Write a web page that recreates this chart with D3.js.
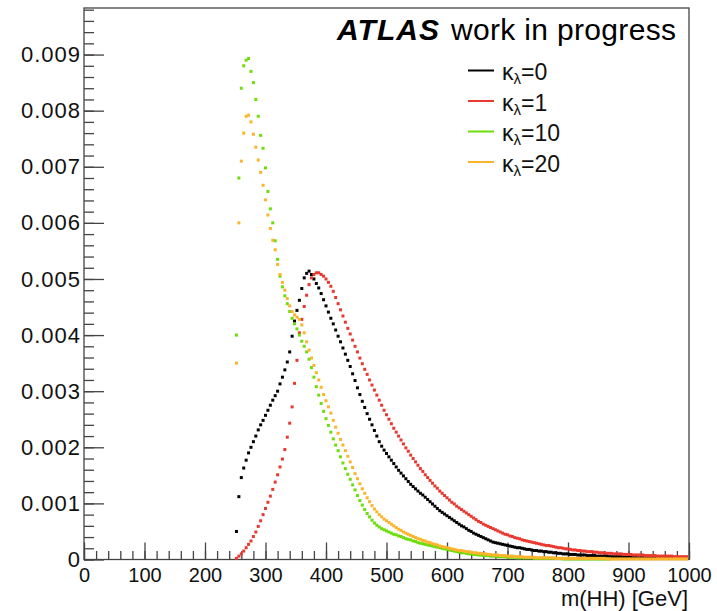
<!DOCTYPE html>
<html>
<head>
<meta charset="utf-8">
<script src="https://cdn.jsdelivr.net/npm/d3@7"></script>
<style>
  body { margin: 0; background: #fff; }
  svg { display: block; font-family: "Liberation Sans", Arial, Helvetica, sans-serif; }
</style>
</head>
<body>
<div class="chart"></div>
<script>
// m(HH) histograms, 4 GeV bins (bin centres)
var massBins = d3.range(252, 1000, 4);

// kappa_lambda = 0
var kl0 = [
  0.00050, 0.00112, 0.00146, 0.00163, 0.00177, 0.00190, 0.00200, 0.00210, 0.00220, 0.00231,
  0.00240, 0.00248, 0.00257, 0.00266, 0.00275, 0.00284, 0.00292, 0.00300, 0.00313, 0.00325,
  0.00338, 0.00352, 0.00370, 0.00398, 0.00425, 0.00444, 0.00462, 0.00483, 0.00502, 0.00510,
  0.00514, 0.00508, 0.00500, 0.00492, 0.00484, 0.00474, 0.00463, 0.00452, 0.00441, 0.00430,
  0.00420, 0.00409, 0.00398, 0.00388, 0.00377, 0.00366, 0.00355, 0.00344, 0.00331, 0.00319,
  0.00306, 0.00294, 0.00282, 0.00271, 0.00260, 0.00250, 0.00240, 0.00230, 0.00220, 0.00210,
  0.00202, 0.00195, 0.00189, 0.00183, 0.00177, 0.00171, 0.00165, 0.00159, 0.00154, 0.00149,
  0.00144, 0.00139, 0.00134, 0.00130, 0.00126, 0.00122, 0.00118, 0.00115, 0.00111, 0.00107,
  0.00103, 0.00099, 0.00095, 0.00091, 0.00087, 0.00084, 0.00081, 0.00078, 0.00075, 0.00072,
  0.00069, 0.00066, 0.00063, 0.00060, 0.00058, 0.00055, 0.00052, 0.00050, 0.00047, 0.00045,
  0.00043, 0.00041, 0.00039, 0.00037, 0.00035, 0.00033, 0.00031, 0.00030, 0.00029, 0.00028,
  0.00027, 0.00026, 0.00025, 0.00024, 0.00023, 0.00022, 0.00021, 0.00021, 0.00020, 0.00019,
  0.00018, 0.00018, 0.00017, 0.00016, 0.00016, 0.00015, 0.00015, 0.00014, 0.00014, 0.00013,
  0.00013, 0.00012, 0.00012, 0.00011, 0.00011, 0.00010, 0.00010, 0.00010, 0.00009, 0.00009,
  0.00009, 0.00008, 0.00008, 0.00008, 0.00008, 0.00007, 0.00007, 0.00007, 0.00007, 0.00006,
  0.00006, 0.00006, 0.00006, 0.00006, 0.00005, 0.00005, 0.00005, 0.00005, 0.00005, 0.00005,
  0.00004, 0.00004, 0.00004, 0.00004, 0.00004, 0.00004, 0.00003, 0.00003, 0.00003, 0.00003,
  0.00003, 0.00003, 0.00003, 0.00003, 0.00003, 0.00003, 0.00003, 0.00003, 0.00003, 0.00003,
  0.00002, 0.00002, 0.00002, 0.00002, 0.00002, 0.00002, 0.00002
];

// kappa_lambda = 1
var kl1 = [
  0.00002, 0.00006, 0.00010, 0.00015, 0.00021, 0.00027, 0.00033, 0.00041, 0.00049, 0.00059,
  0.00069, 0.00080, 0.00091, 0.00102, 0.00113, 0.00125, 0.00138, 0.00151, 0.00165, 0.00179,
  0.00196, 0.00218, 0.00243, 0.00272, 0.00314, 0.00355, 0.00404, 0.00428, 0.00451, 0.00471,
  0.00490, 0.00502, 0.00508, 0.00511, 0.00511, 0.00508, 0.00505, 0.00500, 0.00494, 0.00487,
  0.00478, 0.00467, 0.00456, 0.00445, 0.00434, 0.00423, 0.00412, 0.00402, 0.00391, 0.00380,
  0.00370, 0.00359, 0.00349, 0.00339, 0.00330, 0.00320, 0.00311, 0.00302, 0.00293, 0.00284,
  0.00275, 0.00266, 0.00258, 0.00250, 0.00242, 0.00234, 0.00227, 0.00220, 0.00213, 0.00206,
  0.00199, 0.00193, 0.00186, 0.00180, 0.00174, 0.00168, 0.00162, 0.00157, 0.00151, 0.00146,
  0.00141, 0.00136, 0.00131, 0.00127, 0.00122, 0.00118, 0.00114, 0.00110, 0.00106, 0.00102,
  0.00099, 0.00095, 0.00092, 0.00089, 0.00086, 0.00083, 0.00080, 0.00077, 0.00074, 0.00071,
  0.00068, 0.00066, 0.00063, 0.00061, 0.00059, 0.00057, 0.00055, 0.00053, 0.00051, 0.00049,
  0.00047, 0.00045, 0.00044, 0.00042, 0.00041, 0.00039, 0.00038, 0.00037, 0.00035, 0.00034,
  0.00033, 0.00032, 0.00031, 0.00030, 0.00029, 0.00028, 0.00027, 0.00026, 0.00025, 0.00025,
  0.00024, 0.00023, 0.00022, 0.00021, 0.00021, 0.00020, 0.00019, 0.00019, 0.00018, 0.00017,
  0.00017, 0.00016, 0.00016, 0.00015, 0.00015, 0.00014, 0.00014, 0.00014, 0.00013, 0.00013,
  0.00012, 0.00012, 0.00012, 0.00011, 0.00011, 0.00011, 0.00010, 0.00010, 0.00010, 0.00010,
  0.00009, 0.00009, 0.00009, 0.00009, 0.00008, 0.00008, 0.00008, 0.00008, 0.00008, 0.00007,
  0.00007, 0.00007, 0.00007, 0.00007, 0.00006, 0.00006, 0.00006, 0.00006, 0.00006, 0.00006,
  0.00006, 0.00005, 0.00005, 0.00005, 0.00005, 0.00005, 0.00005
];

// kappa_lambda = 10
var kl10 = [
  0.00400, 0.00680, 0.00840, 0.00880, 0.00890, 0.00893, 0.00870, 0.00850, 0.00820, 0.00790,
  0.00756, 0.00733, 0.00698, 0.00656, 0.00625, 0.00600, 0.00568, 0.00535, 0.00505, 0.00486,
  0.00470, 0.00456, 0.00442, 0.00430, 0.00420, 0.00411, 0.00400, 0.00389, 0.00380, 0.00370,
  0.00357, 0.00342, 0.00325, 0.00308, 0.00293, 0.00278, 0.00264, 0.00251, 0.00239, 0.00227,
  0.00215, 0.00204, 0.00194, 0.00183, 0.00172, 0.00162, 0.00152, 0.00143, 0.00133, 0.00124,
  0.00114, 0.00105, 0.00097, 0.00089, 0.00082, 0.00076, 0.00070, 0.00065, 0.00061, 0.00058,
  0.00055, 0.00053, 0.00051, 0.00049, 0.00047, 0.00045, 0.00044, 0.00042, 0.00041, 0.00039,
  0.00037, 0.00036, 0.00035, 0.00033, 0.00032, 0.00030, 0.00029, 0.00028, 0.00027, 0.00026,
  0.00025, 0.00024, 0.00023, 0.00022, 0.00021, 0.00020, 0.00019, 0.00018, 0.00017, 0.00016,
  0.00015, 0.00014, 0.00013, 0.00012, 0.00012, 0.00011, 0.00010, 0.00010, 0.00009, 0.00009,
  0.00008, 0.00008, 0.00007, 0.00007, 0.00007, 0.00006, 0.00006, 0.00006, 0.00005, 0.00005,
  0.00005, 0.00005, 0.00004, 0.00004, 0.00004, 0.00004, 0.00003, 0.00003, 0.00003, 0.00003,
  0.00003, 0.00003, 0.00003, 0.00002, 0.00002, 0.00002, 0.00002, 0.00002, 0.00002, 0.00002,
  0.00002, 0.00002, 0.00002, 0.00002, 0.00002, 0.00001, 0.00001, 0.00001, 0.00001, 0.00001,
  0.00001, 0.00001, 0.00001, 0.00001, 0.00001, 0.00001, 0.00001, 0.00001, 0.00001, 0.00001,
  0.00001, 0.00001, 0.00001, 0.00001, 0.00001, 0, 0, 0, 0, 0,
  0, 0, 0, 0, 0, 0, 0, 0, 0, 0,
  0, 0, 0, 0, 0, 0, 0, 0, 0, 0,
  0, 0, 0, 0, 0, 0, 0
];

// kappa_lambda = 20
var kl20 = [
  0.00350, 0.00600, 0.00710, 0.00760, 0.00790, 0.00792, 0.00780, 0.00758, 0.00735, 0.00712,
  0.00690, 0.00667, 0.00641, 0.00614, 0.00590, 0.00569, 0.00552, 0.00526, 0.00508, 0.00494,
  0.00480, 0.00465, 0.00452, 0.00442, 0.00436, 0.00432, 0.00428, 0.00418, 0.00404, 0.00388,
  0.00373, 0.00359, 0.00346, 0.00333, 0.00320, 0.00307, 0.00294, 0.00283, 0.00272, 0.00261,
  0.00248, 0.00236, 0.00225, 0.00214, 0.00204, 0.00194, 0.00184, 0.00174, 0.00164, 0.00153,
  0.00144, 0.00135, 0.00126, 0.00118, 0.00110, 0.00103, 0.00096, 0.00090, 0.00085, 0.00080,
  0.00076, 0.00072, 0.00069, 0.00066, 0.00063, 0.00060, 0.00057, 0.00054, 0.00052, 0.00049,
  0.00047, 0.00045, 0.00043, 0.00041, 0.00039, 0.00037, 0.00036, 0.00034, 0.00033, 0.00031,
  0.00030, 0.00028, 0.00027, 0.00026, 0.00024, 0.00023, 0.00022, 0.00021, 0.00020, 0.00019,
  0.00018, 0.00017, 0.00016, 0.00016, 0.00015, 0.00014, 0.00014, 0.00013, 0.00012, 0.00012,
  0.00011, 0.00011, 0.00010, 0.00010, 0.00009, 0.00009, 0.00008, 0.00008, 0.00008, 0.00007,
  0.00007, 0.00007, 0.00006, 0.00006, 0.00006, 0.00005, 0.00005, 0.00005, 0.00005, 0.00004,
  0.00004, 0.00004, 0.00004, 0.00004, 0.00003, 0.00003, 0.00003, 0.00003, 0.00003, 0.00003,
  0.00003, 0.00003, 0.00002, 0.00002, 0.00002, 0.00002, 0.00002, 0.00002, 0.00002, 0.00002,
  0.00002, 0.00002, 0.00002, 0.00002, 0.00002, 0.00002, 0.00002, 0.00002, 0.00002, 0.00002,
  0.00002, 0.00002, 0.00002, 0.00001, 0.00001, 0.00001, 0.00001, 0.00001, 0.00001, 0.00001,
  0.00001, 0.00001, 0.00001, 0.00001, 0.00001, 0.00001, 0.00001, 0.00001, 0.00001, 0.00001,
  0.00001, 0.00001, 0.00001, 0.00001, 0.00001, 0.00001, 0.00001, 0.00001, 0.00001, 0.00001,
  0.00001, 0.00001, 0.00001, 0.00001, 0.00001, 0.00001, 0.00001
];

var seriesValues = [kl0, kl1, kl10, kl20];
var legendValues = ["0", "1", "10", "20"];
var seriesColors = ["#000000", "#e8382f", "#6ddd0b", "#fcb42c"];

var xTickValues = [0, 100, 200, 300, 400, 500, 600, 700, 800, 900, 1000];
var xTickLabels = ["0", "100", "200", "300", "400", "500", "600", "700", "800", "900", "1000"];
var yTickValues = [0, 0.001, 0.002, 0.003, 0.004, 0.005, 0.006, 0.007, 0.008, 0.009];
var yTickLabels = ["0", "0.001", "0.002", "0.003", "0.004", "0.005", "0.006", "0.007", "0.008", "0.009"];

var width = 717, height = 611;
var frame = { left: 84, right: 689, top: 8, bottom: 559.5 };

var svg = d3.select(".chart")
  .append("svg")
    .attr("width", width)
    .attr("height", height);

svg.append("rect")
    .attr("width", width)
    .attr("height", height)
    .attr("fill", "#fff");

var x = d3.scaleLinear()
    .domain([0, 1000])
    .range([frame.left, frame.right]);
var y = d3.scaleLinear()
    .domain([0, 0.00983])
    .range([frame.bottom, frame.top]);

// frame box
svg.append("rect")
    .attr("x", frame.left)
    .attr("y", frame.top)
    .attr("width", frame.right - frame.left)
    .attr("height", frame.bottom - frame.top)
    .attr("fill", "none")
    .attr("stroke", "#444")
    .attr("stroke-width", 1.3);

// minor ticks (ROOT style, pointing inside)
svg.append("g")
    .attr("transform", "translate(0," + frame.bottom + ")")
    .call(d3.axisBottom(x).tickValues(d3.range(0, 1001, 20)).tickSize(-8.5).tickFormat(""))
    .call(function(g) { g.select(".domain").remove(); });
svg.append("g")
    .attr("transform", "translate(" + frame.left + ",0)")
    .call(d3.axisLeft(y).tickValues(d3.range(0, 0.0099, 0.0002)).tickSize(-10).tickFormat(""))
    .call(function(g) { g.select(".domain").remove(); });

// major ticks + labels
var xAxis = svg.append("g")
    .attr("transform", "translate(0," + frame.bottom + ")")
    .call(d3.axisBottom(x)
      .tickValues(xTickValues)
      .tickSize(-17)
      .tickPadding(8)
      .tickFormat(function(d, i) { return xTickLabels[i]; }));
xAxis.select(".domain").remove();

var yAxis = svg.append("g")
    .attr("transform", "translate(" + frame.left + ",0)")
    .call(d3.axisLeft(y)
      .tickValues(yTickValues)
      .tickSize(-20)
      .tickPadding(3)
      .tickFormat(function(d, i) { return yTickLabels[i]; }));
yAxis.select(".domain").remove();

svg.selectAll("g").attr("font-family", null);
svg.selectAll(".tick line").attr("stroke", "#444").attr("stroke-width", 1.3);
xAxis.selectAll("text").attr("font-size", 20).attr("fill", "#111");
yAxis.selectAll("text")
    .attr("font-size", 22)
    .attr("letter-spacing", 1)
    .attr("fill", "#111");

// axis title
svg.append("text")
    .attr("x", 688)
    .attr("y", 606)
    .attr("text-anchor", "end")
    .attr("font-size", 22)
    .attr("fill", "#111")
    .text("m(HH) [GeV]");

// histogram points
seriesValues.forEach(function(values, s) {
  svg.append("g")
    .selectAll("rect")
    .data(values.map(function(v, i) { return { m: massBins[i], v: v }; })
      .filter(function(d) { return d.v > 0; }))
    .enter().append("rect")
      .attr("x", function(d) { return x(d.m) - 1.5; })
      .attr("y", function(d) { return y(d.v) - 1.5; })
      .attr("width", 3)
      .attr("height", 3)
      .attr("fill", seriesColors[s]);
});

// ATLAS label
svg.append("text")
    .attr("x", 337)
    .attr("y", 40)
    .attr("font-size", 30)
    .attr("font-weight", "bold")
    .attr("font-style", "italic")
    .attr("textLength", 102)
    .text("ATLAS");
svg.append("text")
    .attr("x", 451)
    .attr("y", 40)
    .attr("font-size", 30)
    .attr("textLength", 225)
    .text("work in progress");

// legend
var legendBaselines = [80, 110.5, 141, 171.5];
legendValues.forEach(function(label, i) {
  var by = legendBaselines[i];
  svg.append("line")
      .attr("x1", 468).attr("x2", 494)
      .attr("y1", by - 9.5).attr("y2", by - 9.5)
      .attr("stroke", seriesColors[i])
      .attr("stroke-width", 2);
  var t = svg.append("text")
      .attr("x", 502)
      .attr("y", by)
      .attr("font-size", 23)
      .attr("fill", "#111");
  t.append("tspan").text("\u03ba");
  t.append("tspan").attr("font-size", 15).attr("dy", 4).text("\u03bb");
  t.append("tspan").attr("dy", -4).text("=" + label);
});
</script>
</body>
</html>
